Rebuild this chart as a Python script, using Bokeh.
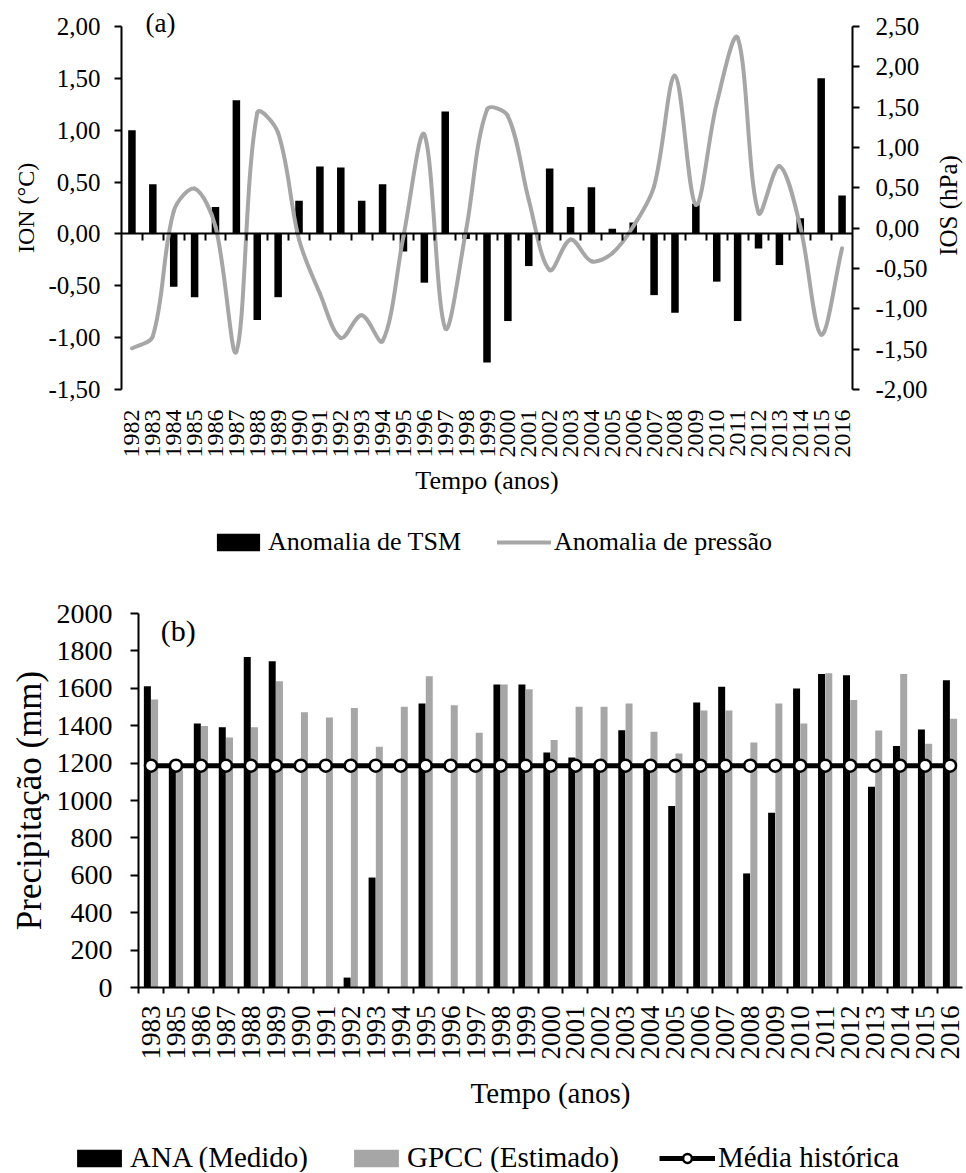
import math
import numpy as np
from bokeh.plotting import figure
from bokeh.models import (Range1d, LinearAxis, FixedTicker, Legend, LegendItem,
                          Label, ColumnDataSource)
from bokeh.layouts import column
from bokeh.transform import dodge
from bokeh.embed import file_html
from bokeh.resources import INLINE

FONT = "Liberation Serif, Times New Roman, Tinos, DejaVu Serif, serif"
GREY = "#A6A6A6"

# ---------------- Panel (a) data ----------------
years_a = list(range(1982, 2017))
ion = [1.00, 0.48, -0.51, -0.61, 0.26, 1.29, -0.83, -0.61, 0.32, 0.65,
       0.64, 0.32, 0.48, -0.17, -0.47, 1.18, -0.05, -1.24, -0.84, -0.31,
       0.63, 0.26, 0.45, 0.05, 0.11, -0.59, -0.76, 0.29, -0.46, -0.84,
       -0.14, -0.30, 0.15, 1.50, 0.37]
ios = [-1.49, -1.34, 0.21, 0.49, 0.02, -1.53, 1.43, 1.18, -0.14, -0.81,
       -1.36, -1.08, -1.40, -0.10, 1.16, -1.24, -0.02, 1.47, 1.39, 0.35,
       -0.52, -0.14, -0.41, -0.31, 0.02, 0.52, 1.89, 0.29, 1.55, 2.36,
       0.19, 0.77, 0.02, -1.32, -0.25]
ion_ticks = [-1.5, -1.0, -0.5, 0.0, 0.5, 1.0, 1.5, 2.0]
ion_tick_labels = ["-1,50", "-1,00", "-0,50", "0,00", "0,50", "1,00", "1,50", "2,00"]
ios_ticks = [-2.0, -1.5, -1.0, -0.5, 0.0, 0.5, 1.0, 1.5, 2.0, 2.5]
ios_tick_labels = ["-2,00", "-1,50", "-1,00", "-0,50", "0,00", "0,50", "1,00",
                   "1,50", "2,00", "2,50"]

# ---------------- Panel (b) data ----------------
years_b = ["1983", "1985", "1986", "1987", "1988", "1989", "1990", "1991",
           "1992", "1993", "1994", "1995", "1996", "1997", "1998", "1999",
           "2000", "2001", "2002", "2003", "2004", "2005", "2006", "2007",
           "2008", "2009", "2010", "2011", "2012", "2013", "2014", "2015", "2016"]
ana = [1611, 1190, 1412, 1392, 1768, 1745, None, None, 53, 588, None, 1519,
       None, None, 1620, 1620, 1257, 1230, 1200, 1376, 1195, 970, 1524, 1608,
       610, 934, 1599, 1676, 1670, 1073, 1292, 1380, 1643]
gpcc = [1540, 1162, 1399, 1337, 1392, 1638, 1472, 1444, 1494, 1287, 1501, 1665,
        1510, 1362, 1620, 1595, 1323, 1501, 1501, 1519, 1367, 1251, 1481, 1481,
        1310, 1519, 1412, 1681, 1537, 1374, 1676, 1303, 1437]
media_historica = 1186
prec_ticks = [0, 200, 400, 600, 800, 1000, 1200, 1400, 1600, 1800, 2000]
prec_tick_labels = ["0", "200", "400", "600", "800", "1000", "1200", "1400",
                    "1600", "1800", "2000"]


def style_axis(ax, size):
    ax.major_label_text_font = FONT
    ax.major_label_text_font_size = size
    ax.major_label_text_color = "black"
    ax.axis_label_text_font = FONT
    ax.axis_label_text_font_style = "normal"
    ax.axis_label_text_color = "black"
    ax.axis_line_color = "black"
    ax.axis_line_width = 2
    ax.major_tick_line_color = "black"
    ax.major_tick_line_width = 2
    ax.minor_tick_line_color = None


def span(lo, hi, px_lo, px_hi, size):
    """Range whose [lo, hi] maps onto canvas pixels [px_lo, px_hi] of a canvas of `size`."""
    k = (hi - lo) / (px_hi - px_lo)
    return Range1d(lo - px_lo * k, hi + (size - px_hi) * k)


# ================= Figure (a) =================
WA, HA = 964, 583
XA0, XA1, YA0, YA1 = 121, 852, HA - 389, HA - 26      # frame pixels of the axes
xa_lo, xa_hi = years_a[0] - 0.5, years_a[-1] + 0.5
pa = figure(width=WA, height=HA, output_backend="svg", toolbar_location=None,
            x_range=span(xa_lo, xa_hi, XA0, XA1, WA),
            y_range=span(ion_ticks[0], ion_ticks[-1], YA0, YA1, HA),
            min_border=0)
pa.outline_line_color = None
pa.xgrid.visible = False
pa.ygrid.visible = False
pa.extra_y_ranges = {"ios": span(ios_ticks[0], ios_ticks[-1], YA0, YA1, HA)}

ya = pa.yaxis[0]
style_axis(ya, "25px")
ya.fixed_location = xa_lo
ya.bounds = (ion_ticks[0], ion_ticks[-1])
ya.ticker = FixedTicker(ticks=ion_ticks)
ya.major_label_overrides = dict(zip(ion_ticks, ion_tick_labels))
ya.major_tick_out = 7
ya.major_tick_in = 0
ya.major_label_standoff = 14
ya.axis_label = "ION (°C)"
ya.axis_label_text_font_size = "24px"
ya.axis_label_standoff = 6

ra = LinearAxis(y_range_name="ios", fixed_location=xa_hi,
                bounds=(ios_ticks[0], ios_ticks[-1]),
                ticker=FixedTicker(ticks=ios_ticks))
style_axis(ra, "25px")
ra.major_label_overrides = dict(zip(ios_ticks, ios_tick_labels))
ra.major_tick_out = 7
ra.major_tick_in = 0
ra.major_label_standoff = 16
pa.add_layout(ra, "right")

xa = pa.xaxis[0]
style_axis(xa, "24px")
xa.fixed_location = ion_ticks[0]
xa.bounds = (xa_lo, xa_hi)
xa.ticker = FixedTicker(ticks=years_a)
xa.major_label_overrides = {y: str(y) for y in years_a}
xa.major_label_orientation = math.pi / 2
xa.axis_line_color = None
xa.major_tick_line_color = None
xa.major_label_standoff = 14
xa.axis_label = "Tempo (anos)"
xa.axis_label_text_font_size = "26px"
xa.axis_label_standoff = 5

za = LinearAxis(fixed_location=0, bounds=(xa_lo, xa_hi),
                ticker=FixedTicker(ticks=[y + 0.5 for y in years_a[:-1]]))
style_axis(za, "1px")
za.major_label_text_color = None
za.major_tick_out = 7
za.major_tick_in = 0
pa.add_layout(za, "below")

bars_a = pa.vbar(x=years_a, top=ion, bottom=0, width=0.36,
                 fill_color="black", line_color=None)

# Excel-like smoothed curve through the read points (control points scaled by
# the on-screen segment lengths, which avoids overshoot next to short segments)
sx = (XA1 - XA0) / (xa_hi - xa_lo)
sy = (YA1 - YA0) / (ios_ticks[-1] - ios_ticks[0])
X = np.array(years_a, dtype=float) * sx
Y = np.array(ios, dtype=float) * sy
Xp = np.concatenate([[X[0]], X, [X[-1]]])
Yp = np.concatenate([[Y[0]], Y, [Y[-1]]])
d_prev = np.hypot(Xp[1:-1] - Xp[:-2], Yp[1:-1] - Yp[:-2])
d_next = np.hypot(Xp[2:] - Xp[1:-1], Yp[2:] - Yp[1:-1])
tot = d_prev + d_next
fa = d_prev / tot / 3.0
fb = d_next / tot / 3.0
tx = Xp[2:] - Xp[:-2]
ty = Yp[2:] - Yp[:-2]
out_x, out_y = X + fb * tx, Y + fb * ty
in_x, in_y = X - fa * tx, Y - fa * ty
curve = pa.bezier(x0=X[:-1] / sx, y0=Y[:-1] / sy, x1=X[1:] / sx, y1=Y[1:] / sy,
                  cx0=out_x[:-1] / sx, cy0=out_y[:-1] / sy,
                  cx1=in_x[1:] / sx, cy1=in_y[1:] / sy,
                  line_color=GREY, line_width=4, line_cap="round",
                  y_range_name="ios")

pa.add_layout(Label(x=1982.65, y=2.03, text="(a)", text_font=FONT,
                    text_font_size="27px", text_baseline="middle",
                    text_align="left", text_color="black"))
pa.add_layout(Label(x=2021.1, y=0.274, text="IOS (hPa)", text_font=FONT,
                    text_font_size="25px", text_baseline="middle",
                    text_align="center", angle=math.pi / 2, text_color="black"))

leg_a = Legend(items=[LegendItem(label="Anomalia de TSM", renderers=[bars_a]),
                      LegendItem(label="Anomalia de pressão", renderers=[curve])],
               orientation="horizontal", location=(211, 26),
               glyph_width=54, glyph_height=22, label_standoff=3, spacing=36,
               padding=0, margin=0, background_fill_alpha=0,
               border_line_color=None, label_text_font=FONT,
               label_text_font_size="26px", label_text_color="black")
pa.add_layout(leg_a, "center")

# ================= Figure (b) =================
WB, HB = 964, 589
idx = list(range(len(years_b)))
xb_lo, xb_hi = -0.5, len(years_b) - 0.5
src = ColumnDataSource(dict(idx=idx, ana=np.array(ana, dtype=float),
                            gpcc=np.array(gpcc, dtype=float),
                            media=[media_historica] * len(idx)))

pb = figure(width=WB, height=HB, output_backend="svg", toolbar_location=None,
            x_range=span(xb_lo, xb_hi, 138, 962, WB),
            y_range=span(prec_ticks[0], prec_ticks[-1], HB - 404, HB - 30, HB),
            min_border=0)
pb.outline_line_color = None
pb.xgrid.visible = False
pb.ygrid.visible = False

yb = pb.yaxis[0]
style_axis(yb, "28px")
yb.fixed_location = xb_lo
yb.bounds = (prec_ticks[0], prec_ticks[-1])
yb.ticker = FixedTicker(ticks=prec_ticks)
yb.major_label_overrides = dict(zip(prec_ticks, prec_tick_labels))
yb.major_tick_out = 8
yb.major_tick_in = 0
yb.major_label_standoff = 18
yb.axis_label = "Precipitação (mm)"
yb.axis_label_text_font_size = "35px"
yb.axis_label_standoff = 5

xb = pb.xaxis[0]
style_axis(xb, "27px")
xb.fixed_location = prec_ticks[0]
xb.bounds = (xb_lo, xb_hi)
xb.ticker = FixedTicker(ticks=idx)
xb.major_label_overrides = dict(zip(idx, years_b))
xb.major_label_orientation = math.pi / 2
xb.axis_line_color = None
xb.major_tick_line_color = None
xb.major_label_standoff = 12
xb.axis_label = "Tempo (anos)"
xb.axis_label_text_font_size = "29px"
xb.axis_label_standoff = 14

zb = LinearAxis(fixed_location=prec_ticks[0], bounds=(xb_lo, xb_hi),
                ticker=FixedTicker(ticks=[i - 0.5 for i in idx]))
style_axis(zb, "1px")
zb.major_label_text_color = None
zb.major_tick_out = 6
zb.major_tick_in = 0
pb.add_layout(zb, "below")

bars_ana = pb.vbar(x=dodge("idx", -0.145, range=pb.x_range), top="ana", width=0.28,
                   source=src, fill_color="black", line_color=None)
bars_gpcc = pb.vbar(x=dodge("idx", 0.145, range=pb.x_range), top="gpcc", width=0.28,
                    source=src, fill_color=GREY, line_color=None)
media_line = pb.line(x="idx", y="media", source=src, line_color="black", line_width=5)
media_pts = pb.scatter(x="idx", y="media", source=src, size=12, marker="circle",
                       fill_color="white", line_color="black", line_width=2.5)

pb.add_layout(Label(x=0.39, y=1909, text="(b)", text_font=FONT,
                    text_font_size="30px", text_baseline="middle",
                    text_align="left", text_color="black"))

leg_b = Legend(items=[LegendItem(label="ANA (Medido)", renderers=[bars_ana]),
                      LegendItem(label="GPCC (Estimado)", renderers=[bars_gpcc]),
                      LegendItem(label="Média histórica", renderers=[media_line, media_pts])],
               orientation="horizontal", location=(71, -2),
               glyph_width=56, glyph_height=22, label_standoff=3, spacing=40,
               padding=0, margin=0, background_fill_alpha=0,
               border_line_color=None, label_text_font=FONT,
               label_text_font_size="29px", label_text_color="black")
pb.add_layout(leg_b, "center")

layout = column(pa, pb)
open("out.html", "w").write(file_html(layout, INLINE))
